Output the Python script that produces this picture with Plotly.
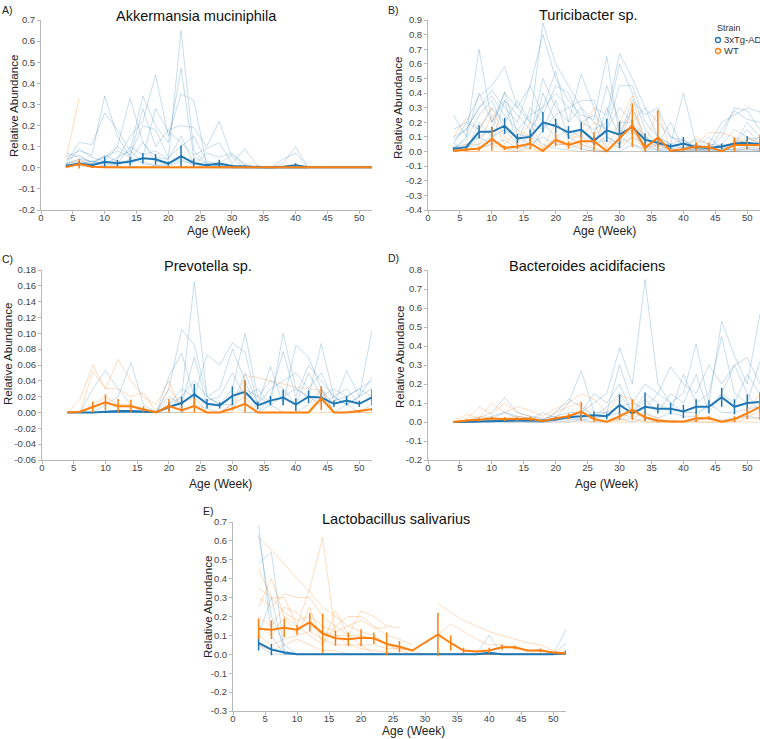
import plotly.graph_objects as go

# ---------------- DATA ----------------
WEEKS = [4, 6, 8, 10, 12, 14, 16, 18, 20, 22, 24, 26, 28, 30, 32, 34, 36, 38, 40, 42, 44, 46, 48, 50, 52]
GROUPS = ["3xTg-AD", "WT"]
X_TICKS = [0, 5, 10, 15, 20, 25, 30, 35, 40, 45, 50]
TITLES = ["Akkermansia muciniphila", "Turicibacter sp.", "Prevotella sp.",
          "Bacteroides acidifaciens", "Lactobacillus salivarius"]
PANEL_LABELS = ["A)", "B)", "C)", "D)", "E)"]
N = None

# Panel A - Akkermansia muciniphila
A_YTICKS = [-0.2, -0.1, 0.0, 0.1, 0.2, 0.3, 0.4, 0.5, 0.6, 0.7]
A_TG_MEAN = [0.010, 0.020, 0.012, 0.028, 0.022, 0.030, 0.045, 0.040, 0.020, 0.055, 0.022, 0.012, 0.020, 0.008, 0.006, 0.003, 0.002, 0.005, 0.012, 0.003, 0.002, 0.002, 0.002, 0.002, 0.002]
A_TG_SEM = [0.006, 0.012, 0.005, 0.025, 0.015, 0.020, 0.025, 0.025, 0.010, 0.050, 0.022, 0.006, 0.018, 0.006, 0.006, 0.002, 0.001, 0.003, 0.010, 0.002, 0, 0, 0, 0, 0]
A_WT_MEAN = [0.004, 0.018, 0.005, 0.002, 0.003, 0.002, 0.002, 0.002, 0.002, 0.002, 0.002, 0.002, 0.002, 0.002, 0.002, 0.002, 0.002, 0.002, 0.002, 0.002, 0.002, 0.002, 0.002, 0.002, 0.002]
A_WT_SEM = [0.004, 0.022, 0.003, 0.001, 0.002, 0.001, 0.001, 0.001, 0.001, 0.001, 0.001, 0.001, 0.001, 0, 0, 0, 0, 0, 0, 0, 0, 0, 0, 0, 0]
A_TG_MICE = [
    [0.05, 0.08, 0.06, 0.34, 0.15, 0.05, 0.02, 0.01, 0.01, 0.03, 0.02, 0.01, 0.00, 0.00, 0.00, 0.00, 0.00, 0.00, 0.00, 0.00, N, N, N, N, N],
    [0.03, 0.12, 0.11, 0.26, 0.18, 0.08, 0.03, 0.01, 0.02, 0.05, 0.03, 0.01, 0.01, 0.00, 0.00, 0.00, 0.00, 0.00, 0.00, 0.00, 0.00, 0.00, 0.00, 0.00, 0.00],
    [0.02, 0.04, 0.03, 0.05, 0.10, 0.33, 0.12, 0.05, 0.04, 0.65, 0.08, 0.02, 0.01, 0.00, 0.00, 0.00, 0.00, 0.00, 0.00, 0.00, N, N, N, N, N],
    [0.01, 0.02, 0.03, 0.02, 0.05, 0.08, 0.34, 0.20, 0.12, 0.47, 0.05, 0.02, 0.01, 0.01, 0.00, 0.00, 0.00, 0.00, 0.00, 0.00, N, N, N, N, N],
    [0.02, 0.03, 0.02, 0.01, 0.04, 0.15, 0.22, 0.44, 0.15, 0.35, 0.32, 0.02, 0.01, 0.00, 0.00, 0.00, 0.00, 0.00, 0.00, 0.00, N, N, N, N, N],
    [0.04, 0.06, 0.02, 0.05, 0.08, 0.05, 0.28, 0.10, 0.18, 0.20, 0.19, 0.10, 0.22, 0.05, 0.00, 0.00, 0.00, 0.00, 0.00, 0.00, N, N, N, N, N],
    [0.01, 0.01, 0.02, 0.06, 0.03, 0.02, 0.05, 0.28, 0.17, 0.12, 0.06, 0.09, 0.12, 0.02, 0.09, 0.01, 0.00, 0.02, 0.10, 0.00, N, N, N, N, N],
    [0.02, 0.09, 0.05, 0.03, 0.10, 0.06, 0.20, 0.18, 0.05, 0.10, 0.15, 0.03, 0.02, 0.06, 0.02, 0.00, 0.00, 0.04, 0.07, 0.00, N, N, N, N, N],
    [0.00, 0.02, 0.01, 0.00, 0.02, 0.10, 0.06, 0.08, 0.04, 0.15, 0.02, 0.00, 0.00, 0.00, 0.00, 0.00, 0.00, 0.00, 0.00, 0.00, N, N, N, N, N],
    [0.07, 0.05, 0.03, 0.02, 0.01, 0.04, 0.12, 0.03, 0.02, 0.04, 0.01, 0.07, 0.05, 0.07, 0.01, 0.00, 0.00, 0.00, 0.00, 0.00, N, N, N, N, N],
]
A_WT_MICE = [
    [0.05, 0.33, N, N, N, N, N, N, N, N, N, N, N, N, N, N, N, N, N, N, N, N, N, N, N],
    [0.02, 0.04, 0.01, 0.00, 0.00, 0.00, 0.00, 0.00, 0.00, 0.00, 0.00, 0.00, 0.00, 0.00, 0.00, 0.00, 0.00, 0.00, 0.00, 0.00, 0.00, 0.00, 0.00, 0.00, 0.00],
    [0.01, 0.02, 0.00, 0.01, 0.00, 0.00, 0.00, 0.00, 0.00, 0.00, 0.00, 0.00, 0.00, 0.00, 0.00, 0.00, 0.00, 0.00, 0.00, 0.00, 0.00, 0.00, 0.00, 0.00, 0.00],
]

# Panel B - Turicibacter sp.
B_YTICKS = [-0.4, -0.3, -0.2, -0.1, 0.0, 0.1, 0.2, 0.3, 0.4, 0.5, 0.6, 0.7, 0.8, 0.9]
B_TG_MEAN = [0.020, 0.030, 0.135, 0.135, 0.175, 0.090, 0.100, 0.200, 0.175, 0.130, 0.150, 0.075, 0.145, 0.115, 0.170, 0.080, 0.060, 0.035, 0.055, 0.030, 0.025, 0.035, 0.055, 0.060, 0.050]
B_TG_SEM = [0.010, 0.010, 0.045, 0.035, 0.055, 0.030, 0.050, 0.070, 0.050, 0.045, 0.050, 0.030, 0.080, 0.090, 0.050, 0.045, 0.030, 0.015, 0.045, 0.020, 0.020, 0.020, 0.040, 0.045, 0.040]
B_WT_MEAN = [0.005, 0.015, 0.020, 0.085, 0.025, 0.035, 0.055, 0.005, 0.080, 0.045, 0.070, 0.070, 0.002, 0.090, 0.180, 0.025, 0.095, 0.005, 0.015, 0.035, 0.030, 0.002, 0.045, 0.045, 0.045]
B_WT_SEM = [0.005, 0.010, 0.015, 0.080, 0.015, 0.020, 0.040, 0.005, 0.045, 0.025, 0.060, 0.065, 0.002, 0.030, 0.150, 0.030, 0.190, 0.005, 0.010, 0.030, 0.030, 0.002, 0.050, 0.030, 0.070]
B_WT_SEM_LOW = [0.005, 0.010, 0.015, 0.080, 0.015, 0.020, 0.040, 0.005, 0.045, 0.025, 0.060, 0.065, 0.002, 0.030, 0.150, 0.025, 0.090, 0.005, 0.010, 0.030, 0.030, 0.002, 0.045, 0.030, 0.045]
B_TG_MICE = [
    [0.25, 0.10, 0.70, 0.20, 0.40, 0.30, 0.20, 0.88, 0.60, 0.45, 0.30, 0.20, 0.15, 0.45, 0.45, 0.20, 0.10, 0.05, 0.40, 0.05, 0.02, 0.10, 0.30, 0.28, 0.15],
    [0.05, 0.20, 0.38, 0.45, 0.58, 0.30, 0.45, 0.80, 0.50, 0.35, 0.25, 0.22, 0.65, 0.10, 0.35, 0.25, 0.30, 0.10, 0.05, 0.08, 0.05, 0.20, 0.25, 0.30, 0.27],
    [0.02, 0.10, 0.40, 0.20, 0.35, 0.25, 0.15, 0.30, 0.55, 0.20, 0.53, 0.30, 0.25, 0.67, 0.50, 0.30, 0.20, 0.10, 0.08, 0.03, 0.02, 0.05, 0.15, 0.10, 0.05],
    [0.10, 0.15, 0.30, 0.42, 0.30, 0.20, 0.45, 0.25, 0.45, 0.40, 0.20, 0.15, 0.20, 0.60, 0.40, 0.15, 0.05, 0.02, 0.03, 0.02, 0.01, 0.03, 0.05, 0.20, 0.10],
    [0.03, 0.05, 0.10, 0.15, 0.41, 0.12, 0.10, 0.50, 0.30, 0.20, 0.30, 0.10, 0.45, 0.20, 0.20, 0.30, 0.10, 0.05, 0.02, 0.05, 0.01, 0.15, 0.28, 0.22, 0.20],
    [0.15, 0.20, 0.15, 0.30, 0.20, 0.35, 0.20, 0.15, 0.25, 0.30, 0.35, 0.35, 0.10, 0.05, 0.30, 0.10, 0.02, 0.03, 0.05, 0.02, 0.10, 0.02, 0.05, 0.15, 0.05],
    [0.01, 0.03, 0.05, 0.10, 0.15, 0.05, 0.30, 0.20, 0.10, 0.15, 0.10, 0.05, 0.08, 0.02, 0.10, 0.05, 0.01, 0.02, 0.01, 0.01, 0.02, 0.01, 0.02, 0.03, 0.02],
    [0.02, 0.08, 0.25, 0.35, 0.15, 0.10, 0.05, 0.40, 0.20, 0.10, 0.05, 0.02, 0.30, 0.10, 0.05, 0.02, 0.05, 0.20, 0.02, 0.01, 0.01, 0.01, 0.01, 0.01, 0.01],
    [0.00, 0.02, 0.10, 0.05, 0.35, 0.05, 0.02, 0.15, 0.35, 0.10, 0.15, 0.05, 0.10, 0.05, 0.15, 0.02, 0.01, 0.00, 0.00, 0.01, 0.00, 0.02, 0.01, 0.02, 0.01],
    [0.05, 0.00, 0.20, 0.10, 0.02, 0.00, 0.05, 0.10, 0.05, 0.05, 0.02, 0.00, 0.00, 0.00, 0.05, 0.00, 0.00, 0.00, 0.00, 0.00, 0.00, 0.00, 0.00, 0.00, 0.00],
    [0.08, 0.15, 0.30, 0.38, 0.25, 0.15, 0.25, 0.30, 0.40, 0.30, 0.20, 0.25, 0.15, 0.30, 0.20, 0.10, 0.05, 0.05, 0.08, 0.02, 0.05, 0.04, 0.05, 0.08, 0.10],
    [0.00, 0.01, 0.02, 0.05, 0.08, 0.02, 0.12, 0.05, 0.02, 0.01, 0.00, 0.01, 0.00, 0.00, 0.00, 0.00, 0.00, 0.00, 0.00, 0.00, 0.00, 0.00, 0.00, 0.00, 0.00],
]
B_WT_MICE = [
    [0.10, 0.23, 0.15, 0.30, 0.10, 0.05, 0.20, 0.02, 0.10, 0.05, 0.15, 0.30, 0.02, 0.20, 0.38, 0.05, 0.28, 0.00, 0.02, 0.05, 0.13, 0.13, 0.10, 0.05, 0.10],
    [0.00, 0.05, 0.05, 0.25, 0.05, 0.15, 0.10, 0.02, 0.20, 0.10, 0.10, 0.20, 0.00, 0.10, 0.30, 0.05, 0.05, 0.01, 0.00, 0.10, 0.05, 0.00, 0.05, 0.10, 0.05],
    [0.00, 0.01, 0.02, 0.05, 0.02, 0.02, 0.05, 0.00, 0.05, 0.05, 0.08, 0.02, 0.00, 0.05, 0.10, 0.02, 0.10, 0.00, 0.00, 0.00, 0.00, 0.00, 0.08, 0.05, 0.02],
    [0.00, 0.00, 0.00, 0.00, 0.00, 0.00, 0.00, 0.00, 0.00, 0.00, 0.00, 0.00, 0.00, 0.00, 0.00, 0.00, 0.00, 0.00, 0.00, 0.00, 0.00, 0.00, 0.00, 0.00, 0.00],
    [0.02, 0.00, 0.00, 0.10, 0.00, 0.00, 0.02, 0.00, 0.08, 0.02, 0.05, 0.00, 0.00, 0.10, 0.15, 0.00, 0.05, 0.00, 0.00, 0.02, 0.00, 0.00, 0.00, 0.02, 0.00],
]

# Panel C - Prevotella sp.
C_YTICKS = [-0.06, -0.04, -0.02, 0.00, 0.02, 0.04, 0.06, 0.08, 0.10, 0.12, 0.14, 0.16, 0.18]
C_TG_MEAN = [0, 0, 0, 0.001, 0.002, 0.002, 0.001, 0.0005, 0.007, 0.012, 0.023, 0.011, 0.009, 0.021, 0.026, 0.009, 0.015, 0.019, 0.010, 0.020, 0.019, 0.011, 0.015, 0.011, 0.019]
C_TG_SEM = [0, 0, 0, 0.001, 0.001, 0.001, 0.001, 0.0005, 0.005, 0.008, 0.013, 0.006, 0.004, 0.012, 0.015, 0.005, 0.006, 0.010, 0.008, 0.008, 0.006, 0.004, 0.006, 0.004, 0.010]
C_WT_MEAN = [0, 0.001, 0.007, 0.013, 0.008, 0.008, 0.004, 0, 0.008, 0.003, 0.008, 0, 0, 0.005, 0.011, 0, 0, 0, 0, 0, 0.018, 0, 0, 0.002, 0.004]
C_WT_SEM = [0, 0.001, 0.007, 0.010, 0.009, 0.008, 0.004, 0, 0.009, 0.006, 0.010, 0, 0, 0.002, 0.030, 0, 0, 0, 0, 0, 0.015, 0, 0, 0.001, 0.002]
C_WT_SEM_LOW = [0, 0.001, 0.007, 0.010, 0.008, 0.008, 0.004, 0, 0.008, 0.003, 0.008, 0, 0, 0.002, 0.011, 0, 0, 0, 0, 0, 0.015, 0, 0, 0.001, 0.002]
C_TG_MICE = [
    [0, 0, 0.030, 0.053, 0.030, 0.010, 0.000, 0.000, 0.010, 0.020, 0.165, 0.020, 0.010, 0.030, 0.100, 0.020, 0.010, 0.100, 0.030, 0.020, 0.087, 0.020, 0.010, 0.020, 0.104],
    [0, 0, 0, 0.010, 0.020, 0.063, 0.010, 0.000, 0.045, 0.075, 0.020, 0.073, 0.060, 0.088, 0.076, 0.010, 0.058, 0.010, 0.085, 0.070, 0.030, 0.010, 0.053, 0.020, 0.045],
    [0, 0, 0, 0, 0, 0, 0.000, 0.000, 0.030, 0.105, 0.085, 0.020, 0.030, 0.080, 0.040, 0.000, 0.020, 0.077, 0.020, 0.060, 0.040, 0.020, 0.010, 0.020, 0.030],
    [0, 0, 0, 0, 0, 0, 0, 0, 0.020, 0.010, 0.070, 0.010, 0.010, 0.020, 0.030, 0.020, 0.040, 0.030, 0.010, 0.050, 0.020, 0.030, 0.020, 0.030, 0.040],
    [0, 0, 0, 0, 0, 0, 0, 0, 0.010, 0.030, 0.020, 0.015, 0.020, 0.050, 0.020, 0.030, 0.010, 0.020, 0.030, 0.020, 0.010, 0.020, 0.030, 0.010, 0.020],
    [0, 0, 0, 0, 0, 0, 0, 0, 0, 0, 0.010, 0.005, 0.000, 0.010, 0.000, 0.000, 0.010, 0.000, 0.000, 0.010, 0.030, 0.000, 0.010, 0.000, 0.010],
    [0, 0, 0, 0, 0, 0, 0, 0, 0.005, 0.020, 0.040, 0.020, 0.010, 0.010, 0.050, 0.010, 0.030, 0.040, 0.050, 0.030, 0.050, 0.015, 0.020, 0.030, 0.020],
]
C_WT_MICE = [
    [0, 0.017, 0.060, 0.030, 0.067, 0.040, 0.020, 0.010, 0.040, 0.000, 0.000, 0, 0, 0, 0.047, 0.044, 0.040, 0.036, 0.032, 0.030, 0.028, 0, 0, 0, 0.005],
    [0, 0, 0.052, 0.030, 0.030, 0.020, 0.025, 0.000, 0.030, 0.010, 0.020, 0, 0, 0.010, 0.020, 0, 0, 0, 0, 0, 0.030, 0, 0, 0, 0],
    [0, 0, 0.010, 0.020, 0.010, 0.010, 0.000, 0.000, 0.000, 0.000, 0.000, 0, 0, 0, 0, 0, 0, 0, 0, 0, 0, 0, 0, 0, 0],
]

# Panel D - Bacteroides acidifaciens
D_YTICKS = [-0.2, -0.1, 0.0, 0.1, 0.2, 0.3, 0.4, 0.5, 0.6, 0.7, 0.8]
D_TG_MEAN = [0, 0.002, 0.005, 0.005, 0.007, 0.008, 0.008, 0.008, 0.015, 0.025, 0.030, 0.035, 0.030, 0.090, 0.045, 0.080, 0.070, 0.070, 0.055, 0.080, 0.080, 0.130, 0.080, 0.100, 0.105]
D_TG_SEM = [0, 0.001, 0.002, 0.003, 0.003, 0.003, 0.004, 0.004, 0.008, 0.010, 0.020, 0.020, 0.015, 0.055, 0.020, 0.075, 0.025, 0.030, 0.035, 0.040, 0.035, 0.050, 0.040, 0.045, 0.050]
D_WT_MEAN = [0, 0.008, 0.012, 0.018, 0.015, 0.015, 0.017, 0.005, 0.020, 0.030, 0.055, 0.015, 0.002, 0.030, 0.065, 0.025, 0.008, 0.002, 0.002, 0.020, 0.020, 0.002, 0.015, 0.045, 0.080]
D_WT_SEM = [0, 0.005, 0.010, 0.010, 0.010, 0.010, 0.010, 0.004, 0.010, 0.015, 0.050, 0.015, 0.002, 0.020, 0.055, 0.020, 0.005, 0.002, 0.002, 0.020, 0.010, 0.002, 0.015, 0.030, 0.070]
D_TG_MICE = [
    [0, 0.01, 0.02, 0.05, 0.13, 0.05, 0.03, 0.02, 0.03, 0.05, 0.05, 0.10, 0.15, 0.39, 0.20, 0.75, 0.20, 0.10, 0.15, 0.41, 0.10, 0.53, 0.35, 0.20, 0.57],
    [0, 0.00, 0.01, 0.03, 0.05, 0.02, 0.01, 0.05, 0.02, 0.10, 0.27, 0.05, 0.05, 0.30, 0.10, 0.20, 0.15, 0.29, 0.20, 0.15, 0.30, 0.20, 0.30, 0.34, 0.20],
    [0, 0, 0.00, 0.01, 0.02, 0.01, 0.00, 0.00, 0.01, 0.02, 0.05, 0.15, 0.10, 0.20, 0.05, 0.15, 0.10, 0.05, 0.25, 0.10, 0.15, 0.45, 0.15, 0.10, 0.32],
    [0, 0, 0, 0, 0.01, 0.01, 0.01, 0.00, 0.01, 0.01, 0.02, 0.03, 0.08, 0.15, 0.05, 0.12, 0.05, 0.15, 0.10, 0.25, 0.05, 0.15, 0.10, 0.25, 0.15],
    [0, 0, 0, 0, 0, 0, 0, 0, 0.01, 0.02, 0.01, 0.02, 0.03, 0.05, 0.02, 0.05, 0.02, 0.05, 0.03, 0.03, 0.10, 0.05, 0.05, 0.07, 0.08],
    [0, 0, 0, 0, 0, 0, 0, 0, 0, 0, 0.01, 0.00, 0.00, 0.02, 0.00, 0.02, 0.00, 0.01, 0.00, 0.01, 0.02, 0.01, 0.02, 0.03, 0.02],
    [0, 0.005, 0.01, 0.02, 0.05, 0.03, 0.02, 0.00, 0.05, 0.12, 0.08, 0.03, 0.05, 0.08, 0.10, 0.07, 0.15, 0.10, 0.05, 0.05, 0.08, 0.15, 0.30, 0.15, 0.05],
]
D_WT_MICE = [
    [0, 0.04, 0.02, 0.10, 0.05, 0.08, 0.06, 0.03, 0.07, 0.10, 0.15, 0.12, 0.05, 0.14, 0.12, 0.04, 0.02, 0, 0, 0.02, 0.03, 0, 0.02, 0.05, 0.15],
    [0, 0.01, 0.08, 0.04, 0.10, 0.05, 0.03, 0.01, 0.05, 0.08, 0.10, 0.02, 0.00, 0.02, 0.05, 0.02, 0, 0, 0, 0.01, 0.02, 0, 0.01, 0.03, 0.05],
    [0, 0, 0.03, 0.02, 0.02, 0.03, 0.02, 0, 0.02, 0.03, 0.05, 0.01, 0, 0.01, 0.02, 0, 0, 0, 0, 0, 0, 0, 0, 0.02, 0.02],
    [0, 0, 0, 0.01, 0.00, 0.00, 0.00, 0, 0, 0, 0, 0, 0, 0, 0, 0, 0, 0, 0, 0, 0, 0, 0, 0, 0],
]

# Panel E - Lactobacillus salivarius
E_YTICKS = [-0.3, -0.2, -0.1, 0.0, 0.1, 0.2, 0.3, 0.4, 0.5, 0.6, 0.7]
E_TG_MEAN = [0.060, 0.025, 0.010, 0, 0, 0, 0, 0, 0, 0, 0, 0, 0, 0, 0, 0, 0, 0, 0.008, 0, 0, 0, 0, 0, 0.010]
E_TG_SEM = [0.040, 0.030, 0.005, 0, 0, 0, 0, 0, 0, 0, 0, 0, 0, 0, 0, 0, 0, 0, 0.005, 0, 0, 0, 0, 0, 0.010]
E_WT_MEAN = [0.135, 0.130, 0.140, 0.130, 0.170, 0.110, 0.085, 0.080, 0.088, 0.085, 0.055, 0.040, 0.020, N, 0.105, 0.060, 0.020, 0.015, 0.020, 0.037, 0.037, 0.020, 0.020, 0.010, 0.005]
E_WT_SEM = [0.055, 0.050, 0.050, 0.025, 0.050, 0.105, 0.040, 0.035, 0.045, 0.030, 0.060, 0.030, 0.005, N, 0.115, 0.040, 0.015, 0.005, 0.015, 0.015, 0.010, 0.005, 0.010, 0.005, 0.005]
E_TG_MICE = [
    [0.68, 0.10, 0.00, 0.00, 0.00, 0.00, 0.00, 0.00, 0.00, 0.00, 0.00, 0.00, 0.00, 0.00, 0.00, 0.00, 0.00, 0.00, 0.10, 0.00, 0.00, 0.00, 0.00, 0.00, 0.13],
    [0.63, 0.20, 0.05, 0.00, 0.00, 0.00, 0.00, 0.00, 0.00, 0.00, 0.00, 0.00, 0.00, 0.00, 0.00, 0.00, 0.00, 0.00, 0.00, 0.00, 0.00, 0.00, 0.00, 0.00, 0.00],
    [0.48, 0.54, 0.02, 0.00, 0.00, 0.00, 0.00, 0.00, 0.00, 0.00, 0.00, 0.00, 0.00, 0.00, 0.00, 0.00, 0.00, 0.00, 0.00, 0.00, 0.00, 0.00, 0.00, 0.00, 0.00],
    [0.10, 0.30, 0.00, 0.00, 0.00, 0.00, 0.00, 0.00, 0.00, 0.00, 0.00, 0.00, 0.00, 0.00, 0.00, 0.00, 0.00, 0.00, 0.00, 0.00, 0.00, 0.00, 0.00, 0.00, 0.00],
    [0.05, 0.00, 0.00, 0.00, 0.00, 0.00, 0.00, 0.00, 0.00, 0.00, 0.00, 0.00, 0.00, 0.00, 0.00, 0.00, 0.00, 0.00, 0.00, 0.00, 0.00, 0.00, 0.00, 0.00, 0.06],
]
E_WT_MICE = [
    [0.62, 0.55, 0.48, 0.40, 0.33, 0.25, 0.20, 0.15, 0.12, 0.10, 0.05, 0.02, 0.00, 0.00, 0.00, 0.00, 0.00, 0.00, 0.00, 0.00, 0.00, 0.00, 0.00, 0.00, 0.00],
    [0.45, 0.30, 0.30, 0.15, 0.35, 0.62, 0.10, 0.05, 0.03, 0.02, 0.01, 0.00, 0.00, 0.00, 0.00, 0.00, 0.00, 0.00, 0.00, 0.00, 0.00, 0.00, 0.00, 0.00, 0.00],
    [0.30, 0.25, 0.32, 0.30, 0.30, 0.20, 0.15, 0.10, 0.23, 0.20, 0.15, 0.14, N, N, N, N, N, N, N, N, N, N, N, N, N],
    [0.25, 0.40, 0.20, 0.10, 0.25, 0.05, 0.23, 0.10, 0.05, 0.00, 0.00, 0.00, 0.00, 0.00, 0.00, 0.00, 0.00, 0.00, 0.00, 0.00, 0.00, 0.00, 0.00, 0.00, 0.00],
    [0.15, 0.10, 0.20, 0.15, 0.10, 0.05, 0.15, 0.20, 0.20, 0.15, 0.10, 0.08, 0.05, N, 0.27, 0.22, 0.18, 0.15, 0.12, 0.10, 0.08, 0.06, 0.05, 0.02, 0.00],
    [0.20, 0.15, 0.25, 0.22, 0.15, 0.12, 0.10, 0.10, 0.10, 0.08, 0.05, 0.03, 0.02, N, 0.10, 0.16, 0.12, 0.08, 0.05, 0.05, 0.03, 0.02, 0.02, 0.01, 0.00],
    [0.10, 0.05, 0.08, 0.10, 0.12, 0.08, 0.05, 0.05, 0.05, 0.05, 0.03, 0.03, 0.02, 0.00, 0.00, 0.00, 0.00, 0.00, 0.00, 0.00, 0.00, 0.00, 0.03, 0.00, 0.00],
    [0.05, 0.02, 0.05, 0.08, 0.05, 0.02, 0.02, 0.00, 0.00, 0.00, 0.00, 0.00, 0.00, 0.00, 0.00, 0.00, 0.00, 0.00, 0.00, 0.00, 0.00, 0.00, 0.00, 0.00, 0.00],
    [0.35, 0.30, 0.22, 0.18, 0.20, 0.15, 0.12, 0.15, 0.18, 0.14, 0.14, N, N, N, N, N, N, N, N, N, N, N, N, N, N],
]

PANELS = [
    dict(tg=A_TG_MEAN, tg_err=A_TG_SEM, wt=A_WT_MEAN, wt_err=A_WT_SEM, wt_err_low=A_WT_SEM,
         tg_mice=A_TG_MICE, wt_mice=A_WT_MICE, yticks=A_YTICKS, fmt="{:.1f}"),
    dict(tg=B_TG_MEAN, tg_err=B_TG_SEM, wt=B_WT_MEAN, wt_err=B_WT_SEM, wt_err_low=B_WT_SEM_LOW,
         tg_mice=B_TG_MICE, wt_mice=B_WT_MICE, yticks=B_YTICKS, fmt="{:.1f}"),
    dict(tg=C_TG_MEAN, tg_err=C_TG_SEM, wt=C_WT_MEAN, wt_err=C_WT_SEM, wt_err_low=C_WT_SEM_LOW,
         tg_mice=C_TG_MICE, wt_mice=C_WT_MICE, yticks=C_YTICKS, fmt="{:.2f}"),
    dict(tg=D_TG_MEAN, tg_err=D_TG_SEM, wt=D_WT_MEAN, wt_err=D_WT_SEM, wt_err_low=D_WT_SEM,
         tg_mice=D_TG_MICE, wt_mice=D_WT_MICE, yticks=D_YTICKS, fmt="{:.1f}"),
    dict(tg=E_TG_MEAN, tg_err=E_TG_SEM, wt=E_WT_MEAN, wt_err=E_WT_SEM, wt_err_low=E_WT_SEM,
         tg_mice=E_TG_MICE, wt_mice=E_WT_MICE, yticks=E_YTICKS, fmt="{:.1f}"),
]

# ---------------- STYLE / LAYOUT ----------------
W, H = 760, 739
COLORS = {"3xTg-AD": "#1f77b4", "WT": "#ff7f0e"}
FAINT = {"3xTg-AD": "rgba(31,119,180,0.28)", "WT": "rgba(255,127,14,0.30)"}
FONT = "Helvetica, Arial, 'Liberation Sans', sans-serif"

# plot-area boxes in pixels: (left, right, top, bottom)
BOXES = [(41, 372, 20, 210), (428, 760, 20, 210), (42, 372, 270, 460), (428, 760, 270, 460), (233, 566, 522, 711)]
TITLE_POS = [(197, 16), (588, 15), (208, 266), (587, 266), (396, 519)]
LABEL_POS = [(0, 10), (386, 10), (0, 259), (386, 258), (201, 511)]
XTITLE_POS = [(218, 231), (604, 231), (220, 484), (606, 484), (413, 731)]
YTITLE_POS = [(14, 106), (398, 108), (8, 354), (400, 357), (208, 607)]


def px(x):
    return x / W


def py(y):
    return 1 - y / H


def note(text, x, y, size, color, xanchor="center", angle=0):
    return dict(text=text, x=px(x), y=py(y), xref="paper", yref="paper", xanchor=xanchor,
                yanchor="middle", textangle=angle, showarrow=False,
                font=dict(family=FONT, size=size, color=color))


fig = go.Figure()
annotations = []
layout_axes = {}

for i, p in enumerate(PANELS):
    k = "" if i == 0 else str(i + 1)
    xa, ya = "x" + k, "y" + k
    for grp, mice in (("WT", p["wt_mice"]), ("3xTg-AD", p["tg_mice"])):
        for m in mice:
            fig.add_trace(go.Scatter(x=WEEKS, y=m, mode="lines", xaxis=xa, yaxis=ya,
                                     line=dict(color=FAINT[grp], width=0.9),
                                     connectgaps=False, showlegend=False, hoverinfo="skip"))
    for grp, mean, err, err_low in (("3xTg-AD", p["tg"], p["tg_err"], p["tg_err"]),
                                    ("WT", p["wt"], p["wt_err"], p["wt_err_low"])):
        fig.add_trace(go.Scatter(x=WEEKS, y=mean, mode="lines", xaxis=xa, yaxis=ya,
                                 line=dict(color=COLORS[grp], width=2), connectgaps=True,
                                 error_y=dict(type="data", array=err, arrayminus=err_low,
                                              symmetric=False, width=0,
                                              thickness=1.5, color=COLORS[grp]),
                                 name=grp, showlegend=False))
    l, r, t, b = BOXES[i]
    axis_common = dict(showline=True, linecolor="#b8b8b8", linewidth=1, ticks="outside",
                       ticklen=3, tickcolor="#b8b8b8", showgrid=False, zeroline=False,
                       automargin=False,
                       tickfont=dict(family=FONT, size=9.5, color="#444"))
    layout_axes["xaxis" + k] = dict(domain=[px(l), px(r)], range=[0, 52], anchor=ya,
                                    tickvals=X_TICKS, ticktext=[str(v) for v in X_TICKS],
                                    ticklabelstandoff=-4, **axis_common)
    yr = p["yticks"]
    layout_axes["yaxis" + k] = dict(domain=[py(b), py(t)], range=[yr[0], yr[-1]], anchor=xa,
                                    tickvals=yr, ticktext=[p["fmt"].format(v) for v in yr], **axis_common)
    annotations.append(note(TITLES[i], *TITLE_POS[i], 14.5, "#111"))
    annotations.append(note(PANEL_LABELS[i], *LABEL_POS[i], 10.5, "#222", xanchor="left"))
    annotations.append(note("Age (Week)", *XTITLE_POS[i], 12, "#222"))
    annotations.append(note("Relative Abundance", *YTITLE_POS[i], 11.5, "#222", angle=-90))

# manual legend
shapes = []
annotations.append(note("Strain", 715, 28, 9, "#333", xanchor="left"))
for j, grp in enumerate(GROUPS):
    cy = 40 + j * 11
    shapes.append(dict(type="circle", xref="paper", yref="paper", x0=px(715.5), x1=px(720.5),
                       y0=py(cy + 2.5), y1=py(cy - 2.5), line=dict(color=COLORS[grp], width=1.3)))
    annotations.append(note(grp, 722, cy, 9.5, "#333", xanchor="left"))

fig.update_layout(width=W, height=H, margin=dict(l=0, r=0, t=0, b=0, autoexpand=False),
                  paper_bgcolor="white", plot_bgcolor="white", showlegend=False,
                  annotations=annotations, shapes=shapes, **layout_axes)

fig.write_html("out.html", config={"displayModeBar": False},
               post_script="document.body.style.margin='0';document.body.style.overflow='hidden';")
